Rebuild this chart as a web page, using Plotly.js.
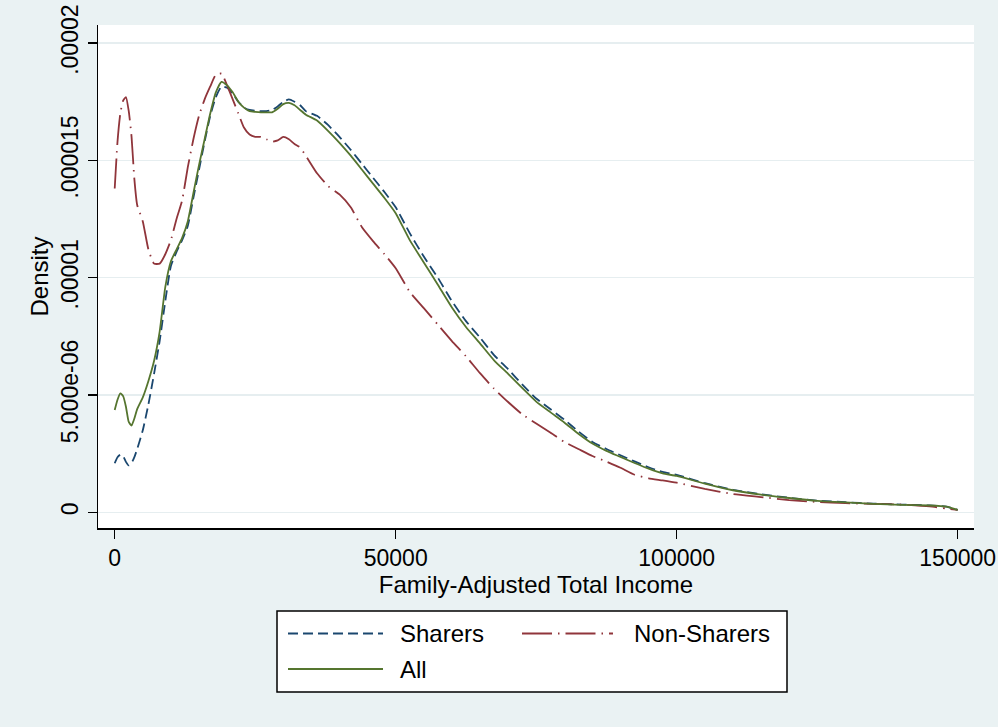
<!DOCTYPE html>
<html>
<head>
<meta charset="utf-8">
<script src="https://cdn.plot.ly/plotly-3.0.1.min.js"></script>
<style>
  html, body { margin: 0; padding: 0; background: #EAF2F3; }
  #chart { width: 998px; height: 727px; }
</style>
</head>
<body>
<div id="chart"></div>
<script>
// Family-adjusted total income grid
var income = [0,500,1000,1500,2000,2500,3000,3500,4000,
  5000,6000,7000,8000,9000,10000,11000,12000,13000,14000,15000,16000,17000,18000,19000,20000,
  21000,22000,23000,24000,25000,26000,27000,28000,29000,30000,31000,32000,33000,34000,
  36000,38000,40000,42000,44000,46000,48000,50000,
  52500,55000,57500,60000,62500,65000,67500,70000,72500,75000,77500,80000,82500,85000,87500,90000,92500,95000,97500,100000,
  105000,110000,115000,120000,125000,130000,135000,140000,145000,148000,150000];

var sharers = [0.209e-5,0.235e-5,0.245e-5,0.24e-5,0.215e-5,0.20e-5,0.21e-5,0.235e-5,0.27e-5,
  0.35e-5,0.46e-5,0.59e-5,0.73e-5,0.90e-5,1.05e-5,1.11e-5,1.16e-5,1.22e-5,1.34e-5,1.46e-5,1.58e-5,1.69e-5,1.77e-5,1.815e-5,1.81e-5,
  1.785e-5,1.75e-5,1.725e-5,1.715e-5,1.712e-5,1.71e-5,1.71e-5,1.715e-5,1.73e-5,1.75e-5,1.76e-5,1.75e-5,1.735e-5,1.71e-5,
  1.69e-5,1.65e-5,1.60e-5,1.545e-5,1.485e-5,1.425e-5,1.365e-5,1.30e-5,
  1.19e-5,1.09e-5,1.0e-5,0.90e-5,0.815e-5,0.745e-5,0.67e-5,0.61e-5,0.545e-5,0.485e-5,0.44e-5,0.395e-5,0.345e-5,0.30e-5,0.27e-5,0.243e-5,0.217e-5,0.192e-5,0.172e-5,0.16e-5,
  0.124e-5,0.096e-5,0.077e-5,0.062e-5,0.05e-5,0.043e-5,0.037e-5,0.033e-5,0.029e-5,0.024e-5,0.01e-5];

var nonSharers = [1.38e-5,1.58e-5,1.70e-5,1.755e-5,1.77e-5,1.71e-5,1.60e-5,1.42e-5,1.31e-5,
  1.24e-5,1.12e-5,1.06e-5,1.06e-5,1.10e-5,1.16e-5,1.25e-5,1.33e-5,1.47e-5,1.59e-5,1.69e-5,1.76e-5,1.815e-5,1.865e-5,1.87e-5,1.82e-5,
  1.76e-5,1.70e-5,1.64e-5,1.61e-5,1.60e-5,1.60e-5,1.59e-5,1.58e-5,1.585e-5,1.60e-5,1.59e-5,1.57e-5,1.555e-5,1.52e-5,
  1.445e-5,1.39e-5,1.355e-5,1.30e-5,1.215e-5,1.155e-5,1.10e-5,1.04e-5,
  0.94e-5,0.87e-5,0.80e-5,0.73e-5,0.665e-5,0.593e-5,0.527e-5,0.47e-5,0.418e-5,0.378e-5,0.34e-5,0.30e-5,0.27e-5,0.24e-5,0.216e-5,0.19e-5,0.16e-5,0.145e-5,0.136e-5,0.126e-5,
  0.10e-5,0.078e-5,0.065e-5,0.052e-5,0.044e-5,0.039e-5,0.036e-5,0.033e-5,0.025e-5,0.016e-5,0.01e-5];

var allHH = [0.436e-5,0.48e-5,0.507e-5,0.495e-5,0.45e-5,0.385e-5,0.37e-5,0.40e-5,0.44e-5,
  0.49e-5,0.56e-5,0.645e-5,0.77e-5,0.96e-5,1.07e-5,1.12e-5,1.17e-5,1.24e-5,1.36e-5,1.48e-5,1.59e-5,1.70e-5,1.79e-5,1.835e-5,1.82e-5,
  1.79e-5,1.75e-5,1.725e-5,1.71e-5,1.707e-5,1.705e-5,1.705e-5,1.705e-5,1.72e-5,1.74e-5,1.745e-5,1.735e-5,1.715e-5,1.695e-5,
  1.67e-5,1.625e-5,1.575e-5,1.52e-5,1.46e-5,1.40e-5,1.34e-5,1.275e-5,
  1.16e-5,1.065e-5,0.97e-5,0.873e-5,0.79e-5,0.72e-5,0.648e-5,0.59e-5,0.53e-5,0.472e-5,0.427e-5,0.383e-5,0.335e-5,0.293e-5,0.262e-5,0.236e-5,0.21e-5,0.186e-5,0.166e-5,0.155e-5,
  0.122e-5,0.094e-5,0.075e-5,0.061e-5,0.049e-5,0.042e-5,0.036e-5,0.032e-5,0.029e-5,0.024e-5,0.01e-5];

var seriesNames = ["Sharers", "Non-Sharers", "All"];
var seriesColors = ["rgb(26,71,111)", "rgb(144,53,59)", "rgb(85,117,47)"];
var seriesDash = ["10px,5px", "30px,6px,1.5px,6px", "solid"];
var seriesValues = [sharers, nonSharers, allHH];

var yTickVals = [0, 5e-6, 1e-5, 1.5e-5, 2e-5];
var yTickText = ["0", "5.000e-06", ".00001", ".000015", ".00002"];
var xTickVals = [0, 50000, 100000, 150000];
var xTickText = ["0", "50000", "100000", "150000"];

var FONT = "Liberation Sans, Arial, sans-serif";

var traces = seriesValues.map(function (vals, i) {
  return {
    x: income, y: vals, type: "scatter", mode: "lines", name: seriesNames[i],
    line: { color: seriesColors[i], width: 1.8, dash: seriesDash[i], shape: "spline", smoothing: 0.5 },
    showlegend: false, hoverinfo: "skip"
  };
});

// Layout in pixels
var W = 998, H = 727, ML = 98, MR = 24, MT = 25, MB = 199;
var PW = W - ML - MR, PH = H - MT - MB;
function px(x) { return (x - ML) / PW; }
function py(y) { return (H - MB - y) / PH; }

// Custom Stata-like legend (long line samples)
var shapes = [{
  type: "rect", xref: "paper", yref: "paper",
  x0: px(277), x1: px(787), y0: py(611), y1: py(692),
  fillcolor: "white", line: { color: "black", width: 1.5 }, layer: "above"
}];
var annotations = [];
var legendPos = [
  { lx0: 288, lx1: 383, ly: 633.5, tx: 398 },
  { lx0: 522, lx1: 613, ly: 633.5, tx: 632 },
  { lx0: 288, lx1: 383, ly: 669, tx: 398 }
];
legendPos.forEach(function (p, i) {
  shapes.push({
    type: "line", xref: "paper", yref: "paper",
    x0: px(p.lx0), x1: px(p.lx1), y0: py(p.ly), y1: py(p.ly),
    line: { color: seriesColors[i], width: 1.8, dash: seriesDash[i] }, layer: "above"
  });
  annotations.push({
    xref: "paper", yref: "paper", x: px(p.tx), y: py(p.ly),
    xanchor: "left", yanchor: "middle", showarrow: false,
    text: seriesNames[i], font: { family: FONT, size: 24, color: "black" }
  });
});

var layout = {
  width: W, height: H,
  margin: { l: ML, r: MR, t: MT, b: MB, pad: 0 },
  paper_bgcolor: "#EAF2F3",
  plot_bgcolor: "white",
  font: { family: FONT, size: 23, color: "black" },
  showlegend: false,
  xaxis: {
    range: [-2972, 152900], autorange: false,
    tickmode: "array", tickvals: xTickVals, ticktext: xTickText,
    ticks: "outside", ticklen: 9, tickwidth: 1.5, tickcolor: "black",
    showline: true, linecolor: "black", linewidth: 1.5,
    showgrid: false, zeroline: false,
    tickfont: { family: FONT, size: 23, color: "black" },
    title: { text: "Family-Adjusted Total Income", font: { family: FONT, size: 24, color: "black" }, standoff: 0 },
    automargin: false
  },
  yaxis: {
    range: [-6.69e-7, 2.0771e-5], autorange: false,
    tickmode: "array", tickvals: yTickVals, ticktext: yTickText,
    tickangle: -90,
    ticks: "outside", ticklen: 9, tickwidth: 1.5, tickcolor: "black",
    showline: true, linecolor: "black", linewidth: 1.5,
    showgrid: true, gridcolor: "#E6EEF0", gridwidth: 1.5, zeroline: false,
    tickfont: { family: FONT, size: 23, color: "black" },
    title: { text: "Density", font: { family: FONT, size: 24, color: "black" }, standoff: 2 },
    automargin: false
  },
  shapes: shapes,
  annotations: annotations
};

Plotly.newPlot("chart", traces, layout, { staticPlot: true, displayModeBar: false });
</script>
</body>
</html>
